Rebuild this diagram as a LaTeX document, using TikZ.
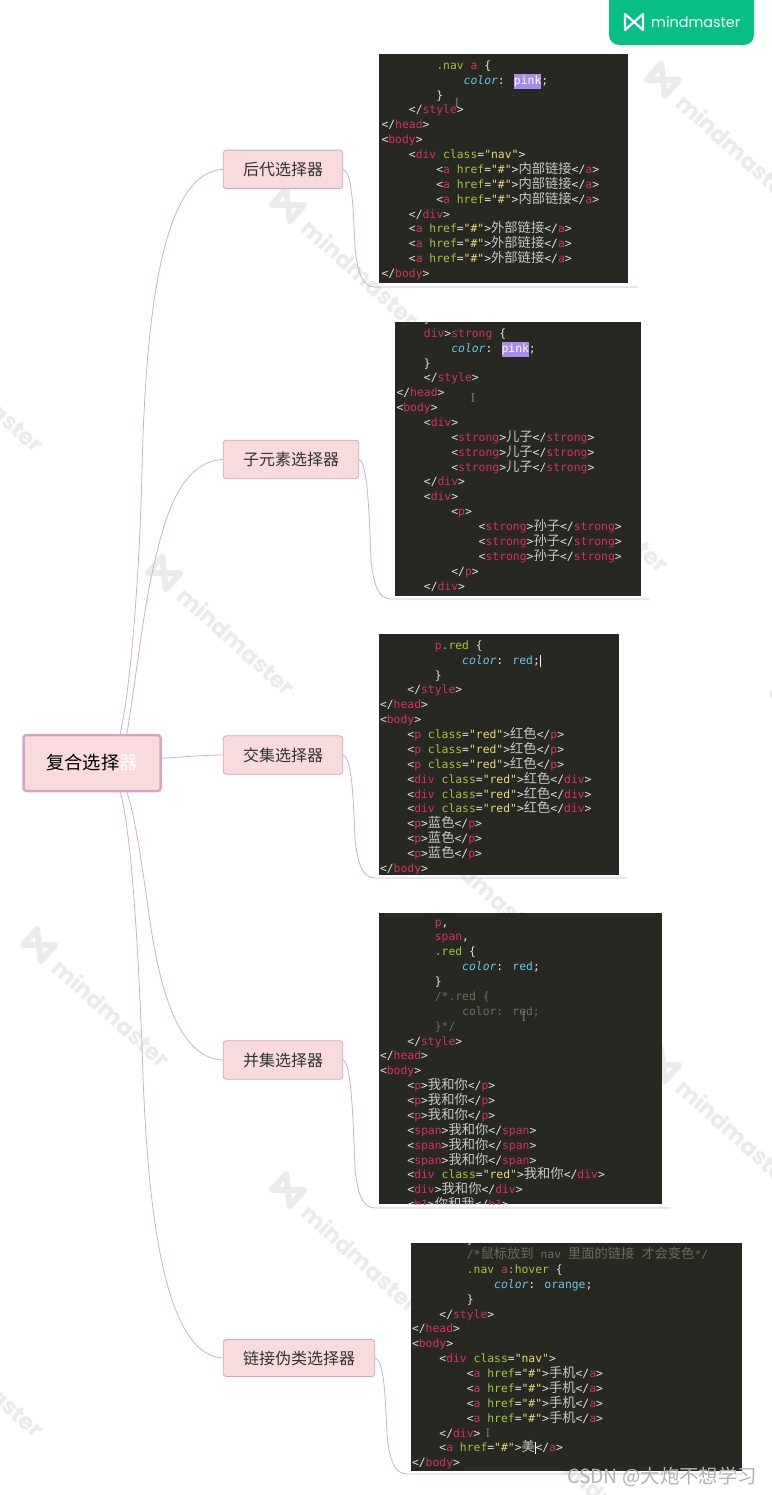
\documentclass[tikz,border=0pt]{standalone}
\usepackage{fontspec}
\usetikzlibrary{calc}
\newfontfamily\cjk{Noto Sans CJK SC}
\newfontfamily\codefont{DejaVu Sans Mono}
\newfontfamily\brandfont{Poppins}

\definecolor{topicfill}{HTML}{F9DADD}
\definecolor{topicline}{HTML}{D0A8C4}
\definecolor{rootline}{HTML}{D6A5C2}
\definecolor{linkline}{HTML}{D3AECB}
\definecolor{codebg}{HTML}{272822}
\definecolor{codetext}{HTML}{E2E2E0}
\definecolor{codered}{HTML}{D8305F}
\definecolor{codegreen}{HTML}{A0C838}
\definecolor{codeyellow}{HTML}{E6DB74}
\definecolor{codeblue}{HTML}{66C8E4}
\definecolor{codegray}{HTML}{6E6C5E}
\definecolor{codecn}{HTML}{C8C8C4}
\definecolor{hlpurple}{HTML}{A98BEA}
\definecolor{brandgreen}{HTML}{08BF86}
\definecolor{markgray}{HTML}{EBEBEB}

\newlength\cw
\setlength\cw{6.85pt}
\newcommand{\codeind}[1]{\hspace*{#1\cw}}
\newcommand{\cred}[1]{\textcolor{codered}{#1}}
\newcommand{\cgrn}[1]{\textcolor{codegreen}{#1}}
\newcommand{\cyel}[1]{\textcolor{codeyellow}{#1}}
\newcommand{\cblu}[1]{\textcolor{codeblue}{#1}}
\newcommand{\cgry}[1]{\textcolor{codegray}{#1}}
\newcommand{\hcn}[1]{\smash{\cjk\fontsize{13.3}{14.87}\selectfont\textcolor{codecn}{#1}}}
\newcommand{\topen}[1]{<\cred{#1}>}
\newcommand{\tclose}[1]{</\cred{#1}>}
\newcommand{\ahref}{<\cred{a} \cgrn{href}=\cyel{"\#"}>}
\newcommand{\clsred}[1]{<\cred{#1} \cgrn{class}=\cyel{"red"}>}
\newcommand{\colorkey}{\cblu{\itshape color}:}
\newcommand{\hlpink}{{\setlength\fboxsep{0pt}\colorbox{hlpurple}{\strut\textcolor{white}{pink}}};}
\newcommand{\caretbar}{\textcolor{white}{\rule[-2.5pt]{0.6pt}{12pt}}}
\newcommand{\logomark}{(-9,-8) -- (-9,8) -- (9,-8) -- (9,8) -- cycle}

\tikzset{
  topic/.style={draw=topicline, fill=topicfill, rounded corners=3, line width=0.8pt, inner sep=0pt,
    minimum height=38.5, text=black!80, font=\cjk\fontsize{16}{18}\selectfont},
  rootbox/.style={draw=rootline, fill=topicfill, rounded corners=3, line width=2.5pt, inner sep=0pt,
    minimum width=137, minimum height=56, font=\cjk\fontsize{18.3}{20}\selectfont},
  link/.style={draw=linkline, line width=0.8pt},
  shot/.style={fill=codebg, anchor=north west, inner sep=0pt, outer sep=0pt},
  code/.style={anchor=north west, inner sep=0pt, outer sep=0pt, align=left, text=codetext,
    font=\codefont\fontsize{11.38}{14.87}\selectfont},
  beam/.style={text=gray, inner sep=0pt, font=\fontsize{13}{13}\selectfont},
  wmtext/.style={anchor=west, inner sep=0pt, transform shape, text=markgray, font=\brandfont\bfseries\fontsize{23}{23}\selectfont},
}

\begin{document}
\begin{tikzpicture}[x=1pt,y=-1pt]
  \useasboundingbox (0,0) rectangle (771,1495);

  % watermark
  \foreach \wx/\wy [count=\i] in {288/205,164/573,39/945,-87/330,-87/1315,413/820,288/1190,663/1065,663/80,538/450,788/695,538/1435} {
      \begin{scope}[shift={(\wx,\wy)},rotate=-42]
        \draw[markgray, line width=6pt, line join=round, scale=1.35] \logomark;
        \node[wmtext] (mark\i) at (25,2) {mindmaster};
      \end{scope}
    }

  % topics
  \node[rootbox] (root) at (92,763) {复合选择{\color{white}器}};
  \node[topic, minimum width=119.5] (kidA) at (283,169.4) {后代选择器};
  \node[topic, minimum width=135.5] (kidB) at (291,459.4) {子元素选择器};
  \node[topic, minimum width=119.5] (kidC) at (283,755) {交集选择器};
  \node[topic, minimum width=119.5] (kidD) at (283,1060) {并集选择器};
  \node[topic, minimum width=151.5, minimum height=37] (kidE) at (299,1358) {链接伪类选择器};

  % root to topics
  \draw[link] (root.46) .. controls (132,680) and (140,560) .. (142,470)
    .. controls (146,300) and (165,172) .. (kidA.west);
  \draw[link] (root.40) .. controls (136,680) and (143,610) .. (155,560)
    .. controls (165,518) and (180,462) .. (kidB.west);
  \draw[link] (root.4) .. controls (185,757) and (205,755) .. (kidC.west);
  \draw[link] (root.-40) .. controls (135,815) and (141,860) .. (147,900)
    .. controls (155,960) and (170,1058) .. (kidD.west);
  \draw[link] (root.-46) .. controls (132,835) and (138,950) .. (142,1045)
    .. controls (146,1190) and (160,1355) .. (kidE.west);

  % topics to screenshots
  \foreach \n/\tx/\ty in {A/637/287,B/649/599,C/627/878,D/670/1208,E/742/1474} {
      \coordinate (tail\n) at (\tx,\ty);
      \coordinate (bend\n) at (kid\n.east |- tail\n);
      \draw[link] (kid\n.east) .. controls +(9,3) and ($(bend\n)+(10,-80)$) .. ($(bend\n)+(12,-37)$)
        .. controls ($(bend\n)+(15,-12)$) and ($(bend\n)+(20,0)$) .. ($(bend\n)+(32,0)$) -- (tail\n);
    }

  % screenshots
  \node[shot, minimum width=249, minimum height=229] (shotA) at (379,54) {};
  \node[code] (codeA) at (381.5,58.9) {\strut\codeind{8}\cgrn{.nav} \cred{a} \{\\
    \codeind{12}\colorkey{} \hlpink\\
    \codeind{8}\}\\
    \codeind{4}\tclose{style}\\
    \tclose{head}\\
    \topen{body}\\
    \codeind{4}<\cred{div} \cgrn{class}=\cyel{"nav"}>\\
    \codeind{8}\ahref\hcn{内部链接}\tclose{a}\\
    \codeind{8}\ahref\hcn{内部链接}\tclose{a}\\
    \codeind{8}\ahref\hcn{内部链接}\tclose{a}\\
    \codeind{4}\tclose{div}\\
    \codeind{4}\ahref\hcn{外部链接}\tclose{a}\\
    \codeind{4}\ahref\hcn{外部链接}\tclose{a}\\
    \codeind{4}\ahref\hcn{外部链接}\tclose{a}\\
    \tclose{body}};
  \node[beam] (beamA) at (457,103) {I};

  \node[shot, minimum width=245.5, minimum height=274] (shotB) at (395,321.7) {};
  \begin{scope}
    \clip (shotB.north west) rectangle (shotB.south east);
    \node[code] (codeB) at (396.5,312) {\strut\codeind{4}\}\\
      \codeind{4}\cred{div}>\cred{strong} \{\\
      \codeind{8}\colorkey{} \hlpink\\
      \codeind{4}\}\\
      \codeind{4}\tclose{style}\\
      \tclose{head}\\
      \topen{body}\\
      \codeind{4}\topen{div}\\
      \codeind{8}\topen{strong}\hcn{儿子}\tclose{strong}\\
      \codeind{8}\topen{strong}\hcn{儿子}\tclose{strong}\\
      \codeind{8}\topen{strong}\hcn{儿子}\tclose{strong}\\
      \codeind{4}\tclose{div}\\
      \codeind{4}\topen{div}\\
      \codeind{8}\topen{p}\\
      \codeind{12}\topen{strong}\hcn{孙子}\tclose{strong}\\
      \codeind{12}\topen{strong}\hcn{孙子}\tclose{strong}\\
      \codeind{12}\topen{strong}\hcn{孙子}\tclose{strong}\\
      \codeind{8}\tclose{p}\\
      \codeind{4}\tclose{div}};
  \end{scope}
  \node[beam] (beamB) at (473,398) {I};

  \node[shot, minimum width=239.7, minimum height=241] (shotC) at (379,634) {};
  \node[code] (codeC) at (380,638.9) {\strut\codeind{8}\cred{p}\cgrn{.red} \{\\
    \codeind{12}\colorkey{} \cblu{red};\caretbar\\
    \codeind{8}\}\\
    \codeind{4}\tclose{style}\\
    \tclose{head}\\
    \topen{body}\\
    \codeind{4}\clsred{p}\hcn{红色}\tclose{p}\\
    \codeind{4}\clsred{p}\hcn{红色}\tclose{p}\\
    \codeind{4}\clsred{p}\hcn{红色}\tclose{p}\\
    \codeind{4}\clsred{div}\hcn{红色}\tclose{div}\\
    \codeind{4}\clsred{div}\hcn{红色}\tclose{div}\\
    \codeind{4}\clsred{div}\hcn{红色}\tclose{div}\\
    \codeind{4}\topen{p}\hcn{蓝色}\tclose{p}\\
    \codeind{4}\topen{p}\hcn{蓝色}\tclose{p}\\
    \codeind{4}\topen{p}\hcn{蓝色}\tclose{p}\\
    \tclose{body}};

  \node[shot, minimum width=283, minimum height=290.7] (shotD) at (379,913.3) {};
  \begin{scope}
    \clip (shotD.north west) rectangle (shotD.south east);
    \node[code] (codeD) at (380,915.7) {\strut\codeind{8}\cred{p},\\
      \codeind{8}\cred{span},\\
      \codeind{8}\cgrn{.red} \{\\
      \codeind{12}\colorkey{} \cblu{red};\\
      \codeind{8}\}\\
      \codeind{8}\cgry{/*.red \{}\\
      \codeind{12}\cgry{color: red;}\\
      \codeind{8}\cgry{\}*/}\\
      \codeind{4}\tclose{style}\\
      \tclose{head}\\
      \topen{body}\\
      \codeind{4}\topen{p}\hcn{我和你}\tclose{p}\\
      \codeind{4}\topen{p}\hcn{我和你}\tclose{p}\\
      \codeind{4}\topen{p}\hcn{我和你}\tclose{p}\\
      \codeind{4}\topen{span}\hcn{我和你}\tclose{span}\\
      \codeind{4}\topen{span}\hcn{我和你}\tclose{span}\\
      \codeind{4}\topen{span}\hcn{我和你}\tclose{span}\\
      \codeind{4}\clsred{div}\hcn{我和你}\tclose{div}\\
      \codeind{4}\topen{div}\hcn{我和你}\tclose{div}\\
      \codeind{4}\topen{h1}\hcn{你和我}\tclose{h1}};
  \end{scope}
  \node[beam] (beamD) at (524,1017) {I};

  \node[shot, minimum width=331.3, minimum height=228] (shotE) at (410.7,1243) {};
  \begin{scope}
    \clip (shotE.north west) rectangle (shotE.south east);
    \node[code] (codeE) at (412,1233.3) {\strut\codeind{8}\}\\
      \codeind{8}\cgry{/*\smash{\cjk\fontsize{13.3}{14.87}\selectfont 鼠标放到} nav \smash{\cjk\fontsize{13.3}{14.87}\selectfont 里面的链接} \smash{\cjk\fontsize{13.3}{14.87}\selectfont 才会变色}*/}\\
      \codeind{8}\cgrn{.nav} \cred{a}\cgrn{:hover} \{\\
      \codeind{12}\colorkey{} \cblu{orange};\\
      \codeind{8}\}\\
      \codeind{4}\tclose{style}\\
      \tclose{head}\\
      \topen{body}\\
      \codeind{4}<\cred{div} \cgrn{class}=\cyel{"nav"}>\\
      \codeind{8}\ahref\hcn{手机}\tclose{a}\\
      \codeind{8}\ahref\hcn{手机}\tclose{a}\\
      \codeind{8}\ahref\hcn{手机}\tclose{a}\\
      \codeind{8}\ahref\hcn{手机}\tclose{a}\\
      \codeind{4}\tclose{div}\\
      \codeind{4}\ahref\hcn{美}\caretbar\tclose{a}\\
      \tclose{body}};
  \end{scope}
  \node[beam] (beamE) at (488,1433) {I};

  % brand badge
  \fill[brandgreen, rounded corners=10] (609,-20) rectangle (754,45);
  \draw[white, line width=2.2pt, line join=round, shift={(634,22)}] \logomark;
  \node[anchor=west, inner sep=0pt, text=white, font=\brandfont\fontsize{14.4}{16}\selectfont] (brand) at (651,22) {mindmaster};

  % page mark
  \node[anchor=west, inner sep=0pt, text=gray!60, font=\cjk\fontsize{19.4}{20}\selectfont] (csdn) at (567,1477) {CSDN @大炮不想学习};
\end{tikzpicture}
\end{document}
